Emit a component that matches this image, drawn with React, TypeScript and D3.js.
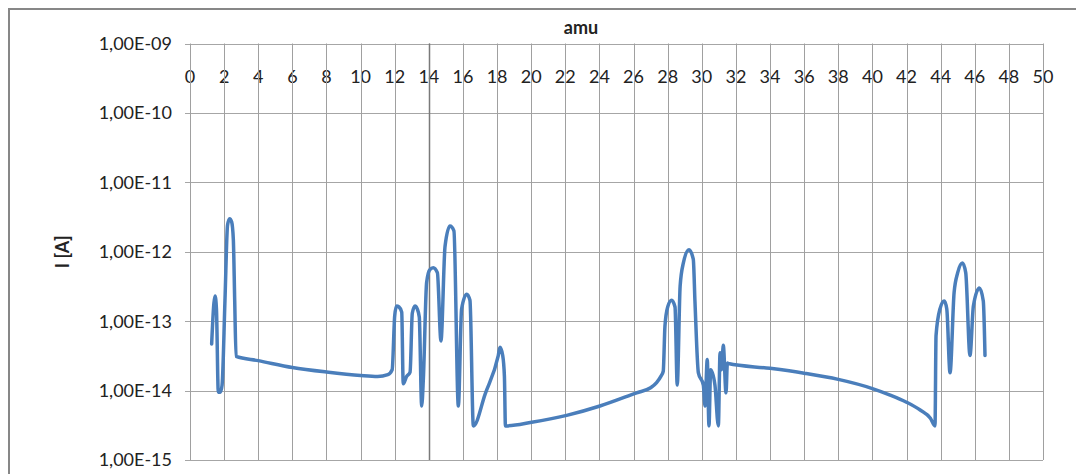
import React from "react";
import * as d3 from "d3";

// Mass scan: ion current versus mass-to-charge ratio
const amu = [
  1.27, 1.4, 1.47, 1.55, 1.66, 1.78, 1.88, 2.05, 2.2, 2.32, 2.44, 2.54, 2.62, 2.7,
  4, 6, 8, 10, 11, 11.6, 11.85,
  12.0, 12.11, 12.25, 12.41, 12.5, 12.7, 12.9, 13.03, 13.19, 13.32, 13.44, 13.58, 13.68,
  13.87, 14.05, 14.26, 14.5, 14.71, 14.95, 15.24, 15.47, 15.73, 15.92, 16.22, 16.41, 16.61,
  17.3, 18.07, 18.17, 18.33, 18.43, 18.49,
  20.03, 22.08, 24.03, 26.18, 27.0, 27.35, 27.6, 27.74,
  27.84, 28.0, 28.23, 28.43, 28.56, 28.73, 28.92, 29.25, 29.5, 29.6, 29.8, 30.09, 30.19,
  30.32, 30.42, 30.52, 30.77, 30.97, 31.07, 31.16, 31.26, 31.42, 31.5,
  31.55, 34, 36, 38, 40, 41, 42, 42.8, 43.4, 43.67,
  43.73, 43.96, 44.21, 44.36, 44.55, 44.79, 45.0, 45.28, 45.47, 45.72, 45.92, 46.27, 46.5, 46.6,
];

const current = [
  4.7e-14, 1.8e-13, 2.3e-13, 1.5e-13, 9.5e-15, 9.5e-15, 1.2e-14, 2.0e-13, 2.4e-12, 3.0e-12, 2.7e-12, 1.5e-12, 2.0e-13, 3.1e-14,
  2.7e-14, 2.15e-14, 1.85e-14, 1.65e-14, 1.6e-14, 1.7e-14, 2.0e-14,
  1.2e-13, 1.65e-13, 1.6e-13, 1.35e-13, 1.25e-14, 1.6e-14, 1.85e-14, 1.3e-13, 1.65e-13, 1.5e-13, 1.15e-13, 6.0e-15, 1.5e-14,
  3.6e-13, 5.5e-13, 5.9e-13, 5.0e-13, 5.2e-14, 1.2e-12, 2.35e-12, 2.0e-12, 6.0e-15, 1.5e-13, 2.45e-13, 2.0e-13, 3.1e-15,
  8.9e-15, 3.2e-14, 4.2e-14, 3.2e-14, 1.6e-14, 3.1e-15,
  3.5e-15, 4.4e-15, 6.0e-15, 9.3e-15, 1.1e-14, 1.3e-14, 1.6e-14, 1.9e-14,
  8.5e-14, 1.6e-13, 2.0e-13, 1.6e-13, 1.2e-14, 3.2e-13, 6.9e-13, 1.07e-12, 7.8e-13, 1.9e-13, 1.8e-14, 1.2e-14, 6.0e-15,
  2.8e-14, 3.1e-15, 2.0e-14, 1.2e-14, 3.1e-15, 3.5e-14, 2.0e-14, 4.5e-14, 9.3e-15, 2.5e-14,
  2.45e-14, 2.09e-14, 1.78e-14, 1.45e-14, 1.07e-14, 8.7e-15, 6.8e-15, 5.25e-15, 4.0e-15, 3.1e-15,
  6.2e-14, 1.5e-13, 1.95e-13, 1.5e-13, 1.8e-14, 2.6e-13, 5.0e-13, 6.9e-13, 5.0e-13, 3.2e-14, 1.65e-13, 3.0e-13, 1.95e-13, 3.2e-14,
];

const xTicks = d3.range(0, 51, 2);
const yTicks = [1e-15, 1e-14, 1e-13, 1e-12, 1e-11, 1e-10, 1e-9];
const xTitle = "amu";
const yTitle = "I [A]";
const crossingAmu = 14;

const W = 1076;
const H = 474;
const plot = { left: 190, right: 1043, top: 43.5, bottom: 460 };
const FONT = "Lato, 'Open Sans', sans-serif";

function formatSci(v: number): string {
  const e = Math.round(Math.log10(v));
  const sign = e < 0 ? "-" : "+";
  return `1,00E${sign}${String(Math.abs(e)).padStart(2, "0")}`;
}

export default function App() {
  const x = d3.scaleLinear().domain([0, 50]).range([plot.left, plot.right]);
  const y = d3.scaleLog().domain([1e-15, 1e-9]).range([plot.bottom, plot.top]);

  const points: [number, number][] = amu.map((a, i) => [a, current[i]]);
  const line = d3
    .line<[number, number]>()
    .x((d) => x(d[0]))
    .y((d) => y(d[1]))
    .curve(d3.curveMonotoneX);

  const crisp = (v: number) => Math.round(v) + 0.5;

  return (
    <svg
      width={W}
      height={H}
      style={{ position: "absolute", left: 0, top: 0, display: "block", background: "#fff" }}
    >
      {/* chart frame */}
      <rect x={9} y={9} width={W + 20} height={H + 20} fill="#fff" stroke="#878787" strokeWidth={2} />

      {/* horizontal grid at each decade, with ticks to the left */}
      {yTicks.map((t) => (
        <g key={`h${t}`}>
          <line
            x1={plot.left - 5}
            x2={plot.right}
            y1={crisp(y(t))}
            y2={crisp(y(t))}
            stroke="#a6a6a6"
            strokeWidth={1}
          />
          <text
            x={172}
            y={y(t)}
            dy="0.36em"
            textAnchor="end"
            fontFamily={FONT}
            fontSize={18}
            fill="#222"
          >
            {formatSci(t)}
          </text>
        </g>
      ))}

      {/* x tick labels, sitting under the vertical grid */}
      {xTicks.map((t) => (
        <text
          key={`xl${t}`}
          x={x(t)}
          y={77}
          dy="0.36em"
          textAnchor="middle"
          fontFamily={FONT}
          fontSize={18}
          fill="#222"
        >
          {t}
        </text>
      ))}

      {/* vertical grid */}
      {xTicks.map((t) => (
        <line
          key={`v${t}`}
          x1={crisp(x(t))}
          x2={crisp(x(t))}
          y1={plot.top}
          y2={plot.bottom}
          stroke="#a0a0a0"
          strokeWidth={1}
        />
      ))}

      {/* value axis crossing */}
      <line
        x1={crisp(x(crossingAmu))}
        x2={crisp(x(crossingAmu))}
        y1={plot.top}
        y2={plot.bottom}
        stroke="#7a7a7a"
        strokeWidth={1.5}
      />

      {/* series */}
      <path
        d={line(points) || ""}
        fill="none"
        stroke="#4a7ebb"
        strokeWidth={3.5}
        strokeLinejoin="round"
        strokeLinecap="round"
      />

      {/* titles */}
      <text
        x={581}
        y={28}
        dy="0.36em"
        textAnchor="middle"
        fontFamily={FONT}
        fontSize={18}
        fontWeight="bold"
        fill="#222"
      >
        {xTitle}
      </text>
      <text
        transform={`translate(63,${(plot.top + plot.bottom) / 2}) rotate(-90)`}
        dy="0.36em"
        textAnchor="middle"
        fontFamily={FONT}
        fontSize={18}
        fontWeight="bold"
        fill="#222"
      >
        {yTitle}
      </text>
    </svg>
  );
}
